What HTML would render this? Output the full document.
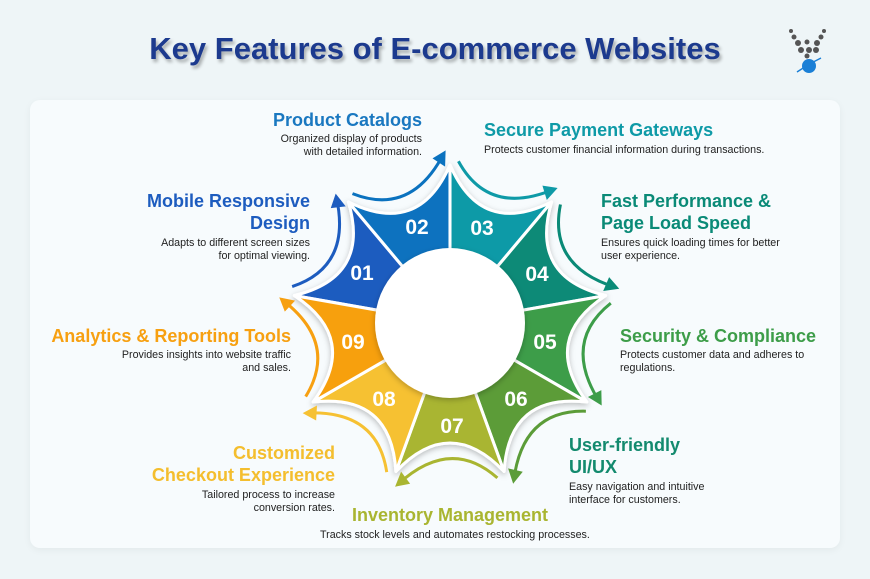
<!DOCTYPE html>
<html><head><meta charset="utf-8"><style>
*{margin:0;padding:0;box-sizing:border-box}
body{width:870px;height:579px;overflow:hidden;background:#eef5f7;font-family:"Liberation Sans",sans-serif;position:relative}
.card{position:absolute;left:30px;top:100px;width:810px;height:448px;background:#f7fbfd;border-radius:10px;box-shadow:0 2px 8px rgba(0,0,0,.05)}
h1{position:absolute;left:0;width:870px;top:31px;text-align:center;font-size:31px;font-weight:bold;color:#1c3a8e;text-shadow:2px 3px 3px rgba(0,0,0,.3)}
.t{position:absolute;font-size:18px;font-weight:bold;line-height:22px;white-space:nowrap}
.d{position:absolute;font-size:10.7px;line-height:13px;color:#222;white-space:nowrap}
.r{text-align:right}
.n{position:absolute;color:#fff;font-weight:bold;font-size:21px;transform:translate(-50%,-50%)}
</style></head><body>
<div class="card"></div>
<h1>Key Features of E-commerce Websites</h1>
<svg style="position:absolute;left:785px;top:28px" width="45" height="55" viewBox="0 0 45 55">
<g fill="#555"><circle cx="6" cy="3" r="2"/><circle cx="39" cy="3" r="2"/><circle cx="9" cy="9" r="2.5"/><circle cx="36" cy="9" r="2.5"/><circle cx="13" cy="15" r="3"/><circle cx="22" cy="14" r="2.5"/><circle cx="32" cy="15" r="3"/><circle cx="16" cy="22" r="3"/><circle cx="24" cy="22" r="3"/><circle cx="31" cy="22" r="3"/><circle cx="22" cy="28" r="2.5"/></g>
<circle cx="24" cy="38" r="7" fill="#1a7fd6"/><path d="M12 44 Q24 36 36 30" stroke="#1a7fd6" stroke-width="1.5" fill="none"/>
</svg>
<svg style="position:absolute;left:0;top:0" width="870" height="579">
<defs>
<filter id="sh"><feDropShadow dx="0" dy="2" stdDeviation="3" flood-opacity=".25"/></filter>
<path id="seg" d="M0,0 L148.5,-54 Q91.5,0 148.5,54 Z"/>
<path id="arr" d="M154.9,-47.4 Q113,0 161.7,52.5"/>
</defs>
<g transform="translate(450,323)" stroke="#fff" stroke-width="3" stroke-linejoin="round" filter="url(#sh)">
<use href="#seg" transform="rotate(210)" fill="#1d5cbf"/>
<use href="#seg" transform="rotate(250)" fill="#0b72bf"/>
<use href="#seg" transform="rotate(290)" fill="#0e9aa7"/>
<use href="#seg" transform="rotate(330)" fill="#0a8a77"/>
<use href="#seg" transform="rotate(10)" fill="#3d9d49"/>
<use href="#seg" transform="rotate(50)" fill="#5b9c38"/>
<use href="#seg" transform="rotate(90)" fill="#a9b531"/>
<use href="#seg" transform="rotate(130)" fill="#f6c133"/>
<use href="#seg" transform="rotate(170)" fill="#f7a011"/>
</g>
<g transform="translate(450,323)" fill="none" stroke-width="3">
<g stroke="#1d5cbf" transform="rotate(210)"><use href="#arr"/><path d="M161.7,52.5 l-2,-10 l-8,6z" fill="#1d5cbf"/></g>
<g stroke="#0b72bf" transform="rotate(250)"><use href="#arr"/><path d="M161.7,52.5 l-2,-10 l-8,6z" fill="#0b72bf"/></g>
<g stroke="#0e9aa7" transform="rotate(290)"><use href="#arr"/><path d="M161.7,52.5 l-2,-10 l-8,6z" fill="#0e9aa7"/></g>
<g stroke="#0a8a77" transform="rotate(330)"><use href="#arr"/><path d="M161.7,52.5 l-2,-10 l-8,6z" fill="#0a8a77"/></g>
<g stroke="#3d9d49" transform="rotate(10)"><use href="#arr"/><path d="M161.7,52.5 l-2,-10 l-8,6z" fill="#3d9d49"/></g>
<g stroke="#5b9c38" transform="rotate(50)"><use href="#arr"/><path d="M161.7,52.5 l-2,-10 l-8,6z" fill="#5b9c38"/></g>
<g stroke="#a9b531" transform="rotate(90)"><use href="#arr"/><path d="M161.7,52.5 l-2,-10 l-8,6z" fill="#a9b531"/></g>
<g stroke="#f6c133" transform="rotate(130)"><use href="#arr"/><path d="M161.7,52.5 l-2,-10 l-8,6z" fill="#f6c133"/></g>
<g stroke="#f7a011" transform="rotate(170)"><use href="#arr"/><path d="M161.7,52.5 l-2,-10 l-8,6z" fill="#f7a011"/></g>
</g>
<circle cx="450" cy="323" r="75" fill="#fff" filter="url(#sh)"/>
</svg>
<div class="n" style="left:362px;top:274px">01</div>
<div class="n" style="left:417px;top:228px">02</div>
<div class="n" style="left:482px;top:229px">03</div>
<div class="n" style="left:537px;top:275px">04</div>
<div class="n" style="left:545px;top:343px">05</div>
<div class="n" style="left:516px;top:400px">06</div>
<div class="n" style="left:452px;top:427px">07</div>
<div class="n" style="left:384px;top:400px">08</div>
<div class="n" style="left:353px;top:343px">09</div>

<div class="t r" style="right:448px;top:109px;color:#1a78c0">Product Catalogs</div>
<div class="d r" style="right:448px;top:133px">Organized display of products<br>with detailed information.</div>

<div class="t" style="left:484px;top:119px;color:#0e9aa7">Secure Payment Gateways</div>
<div class="d" style="left:484px;top:144px">Protects customer financial information during transactions.</div>

<div class="t" style="left:601px;top:190px;color:#0a8a77">Fast Performance &amp;<br>Page Load Speed</div>
<div class="d" style="left:601px;top:237px">Ensures quick loading times for better<br>user experience.</div>

<div class="t" style="left:620px;top:325px;color:#3d9d49">Security &amp; Compliance</div>
<div class="d" style="left:620px;top:349px">Protects customer data and adheres to<br>regulations.</div>

<div class="t" style="left:569px;top:434px;color:#138a6e">User-friendly<br>UI/UX</div>
<div class="d" style="left:569px;top:481px">Easy navigation and intuitive<br>interface for customers.</div>

<div class="t" style="left:352px;top:504px;color:#a9b531">Inventory Management</div>
<div class="d" style="left:320px;top:529px">Tracks stock levels and automates restocking processes.</div>

<div class="t r" style="right:535px;top:442px;color:#f4be2e">Customized<br>Checkout Experience</div>
<div class="d r" style="right:535px;top:489px">Tailored process to increase<br>conversion rates.</div>

<div class="t r" style="right:579px;top:325px;color:#f7a011">Analytics &amp; Reporting Tools</div>
<div class="d r" style="right:579px;top:349px">Provides insights into website traffic<br>and sales.</div>

<div class="t r" style="right:560px;top:190px;color:#1d5cbf">Mobile Responsive<br>Design</div>
<div class="d r" style="right:560px;top:237px">Adapts to different screen sizes<br>for optimal viewing.</div>
</body></html>
